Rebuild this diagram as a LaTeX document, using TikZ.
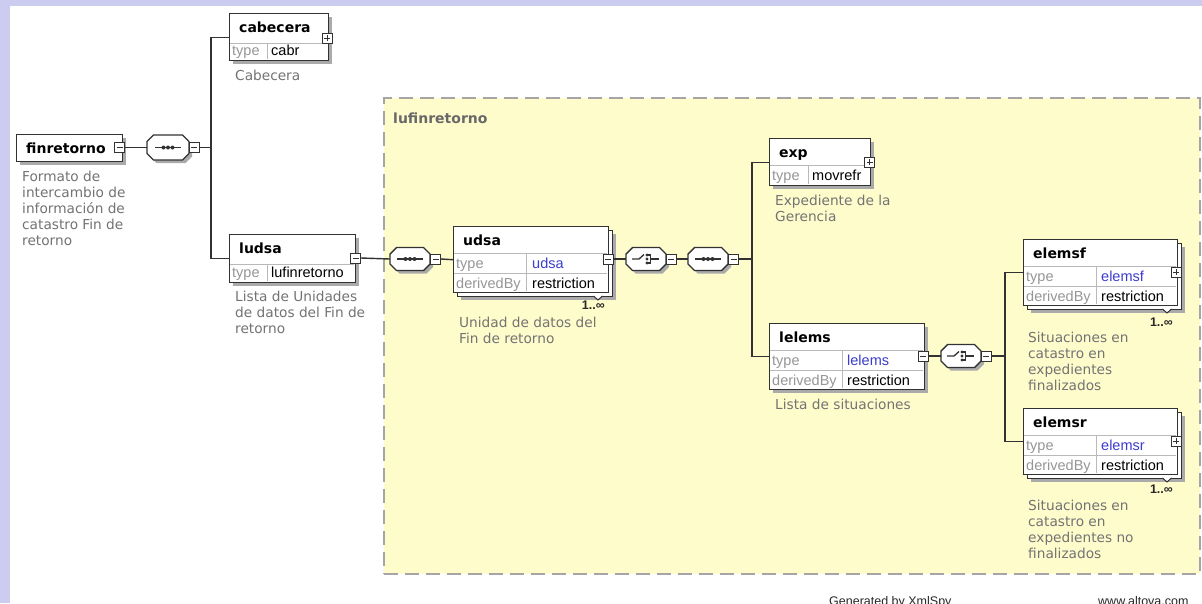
\documentclass[tikz,border=0pt]{standalone}
\usepackage{fontspec}
\setmainfont{DejaVu Sans}
\newfontfamily\arialf{Liberation Sans}
\usetikzlibrary{shadows}
\definecolor{lav}{RGB}{204,204,240}
\definecolor{ylw}{RGB}{255,252,204}
\definecolor{dashc}{RGB}{165,165,165}
\definecolor{boxc}{RGB}{50,50,50}
\definecolor{shad}{RGB}{170,170,170}
\definecolor{descc}{RGB}{115,115,115}
\definecolor{typec}{RGB}{150,150,150}
\definecolor{bluec}{RGB}{60,60,205}
\definecolor{rowc}{RGB}{185,185,185}
\definecolor{footc}{RGB}{40,40,40}
\tikzset{
  shd/.style={drop shadow={shadow xshift=3pt,shadow yshift=-3pt,fill=shad,opacity=1}},
  elbox/.style={draw=boxc,line width=1.4pt,fill=white,rectangle,inner sep=0pt,anchor=north west,shd},
  elfront/.style={draw=boxc,line width=1.4pt,fill=white,rectangle,inner sep=0pt,anchor=north west},
  titlef/.style={font=\bfseries\fontsize{14}{16}\selectfont,anchor=base west,inner sep=0pt,text=black},
  rowf/.style={font=\arialf\fontsize{14.5}{16}\selectfont,anchor=base west,inner sep=0pt,text=black},
  typel/.style={rowf,text=typec},
  bluev/.style={rowf,text=bluec},
  descf/.style={font=\fontsize{13.7}{16}\selectfont,text=descc,anchor=base west,inner sep=0pt,align=left},
  rowline/.style={draw=rowc,line width=1pt},
  pm/.style={draw=boxc,line width=1pt,fill=white,minimum size=10pt,inner sep=0pt,rectangle},
  minusbox/.style={pm,path picture={\draw[line width=1pt,boxc] ([xshift=2pt]path picture bounding box.west) -- ([xshift=-2pt]path picture bounding box.east);}},
  plusbox/.style={pm,path picture={\draw[line width=1pt,boxc] ([xshift=2pt]path picture bounding box.west) -- ([xshift=-2pt]path picture bounding box.east) ([yshift=-2pt]path picture bounding box.north) -- ([yshift=2pt]path picture bounding box.south);}},
  comp/.style={rectangle,minimum width=40pt,minimum height=23pt,inner sep=0pt},
  octo/.style={draw=boxc,line width=1.4pt,fill=white,shd},
  conn/.style={draw=boxc,line width=1.4pt},
  sym/.style={draw=boxc,line width=1.3pt},
  mult/.style={font=\arialf\bfseries\fontsize{12.5}{14}\selectfont,anchor=base east,inner sep=0pt,text=footc},
  footf/.style={font=\arialf\fontsize{12.5}{14}\selectfont,anchor=base west,inner sep=0pt,text=footc}
}
\newcommand\octshape[3]{% name, half width, half height
  \begin{scope}[shift={(#1.center)}]
    \path[octo] (-#2,-#3+6.5) -- (-#2+6.5,-#3) -- (#2-6.5,-#3) -- (#2,-#3+6.5) -- (#2,#3-6.5) -- (#2-6.5,#3) -- (-#2+6.5,#3) -- (-#2,#3-6.5) -- cycle;
  \end{scope}}
\newcommand\seqsym[1]{%
  \begin{scope}[shift={(#1.center)}]
    \draw[sym] (-13,0) -- (13,0);
    \fill[boxc] (-4.5,0) circle (2pt) (0,0) circle (2pt) (4.5,0) circle (2pt);
  \end{scope}}
\newcommand\chosym[1]{%
  \begin{scope}[shift={(#1.center)}]
    \draw[sym] (-14,0) -- (-7,0) -- (-2,-4.5);
    \fill[boxc] (1,-4) circle (1.6pt) (1,0) circle (1.6pt) (1,4) circle (1.6pt);
    \draw[sym] (1,-4) -- (4.5,-4) -- (4.5,4) -- (1,4) (4.5,0) -- (13,0);
  \end{scope}}
\newcommand\notch[1]{\draw[line width=1pt,draw=boxc,fill=white] ([xshift=-4.5pt]#1) -- ([yshift=-4pt]#1) -- ([xshift=4.5pt]#1);}
\begin{document}
\begin{tikzpicture}[x=1pt,y=-1pt]
\useasboundingbox (0,0) rectangle (1202,603);
\clip (0,0) rectangle (1202,603);
\fill[lav] (0,0) rectangle (1202,603);
\fill[white] (10,6) rectangle (1202,603);
% container
\node[draw=dashc,dash pattern=on 14pt off 7pt,line width=1.5pt,fill=ylw,anchor=north west,minimum width=816pt,minimum height=476pt,inner sep=0pt] (lufbox) at (383,97) {};
\node[font=\bfseries\fontsize{14}{16}\selectfont,text=descc!90!black,anchor=base west,inner sep=0pt] (luflbl) at (393,123) {lufinretorno};
% coordinates for buses
\coordinate (bus1) at (211,147.5);
\coordinate (bus2) at (752,259);
\coordinate (bus3) at (1005,356);
% compositors
\node[comp,minimum width=42pt,minimum height=25pt] (seq1) at (168,147.5) {};
\node[comp] (seq2) at (410,259) {};
\node[comp] (cho1) at (646,259) {};
\node[comp] (seq3) at (708,259) {};
\node[comp] (cho2) at (961,356) {};
% element boxes
\node[elbox,minimum width=106pt,minimum height=27pt] (fin) at (16,134) {};
\node[elbox,minimum width=99pt,minimum height=47pt] (cab) at (229,13) {};
\node[elbox,minimum width=126pt,minimum height=48pt] (ludsa) at (229,234) {};
\node[elbox,minimum width=155pt,minimum height=66pt] (udsab) at (457,230) {};
\node[elfront,minimum width=155pt,minimum height=66pt] (udsa) at (453,226) {};
\node[elbox,minimum width=101pt,minimum height=47pt] (exp) at (769,138) {};
\node[elbox,minimum width=155pt,minimum height=66pt] (lelems) at (769,323) {};
\node[elbox,minimum width=154pt,minimum height=66pt] (elemsfb) at (1027,243) {};
\node[elfront,minimum width=154pt,minimum height=66pt] (elemsf) at (1023,239) {};
\node[elbox,minimum width=154pt,minimum height=66pt] (elemsrb) at (1027,412) {};
\node[elfront,minimum width=154pt,minimum height=66pt] (elemsr) at (1023,408) {};
% expand/collapse boxes
\node[minusbox] (finm) at (119.5,147.5) {};
\node[plusbox] (cabp) at (327,38) {};
\node[minusbox] (ludsam) at (355.5,258) {};
\node[minusbox] (udsam) at (608,259) {};
\node[plusbox] (expp) at (869.5,162) {};
\node[minusbox] (lelemsm) at (923,356) {};
\node[plusbox] (elemsfp) at (1176,272) {};
\node[plusbox] (elemsrp) at (1176,441) {};
\node[minusbox] (seq1m) at (194,147.5) {};
\node[minusbox] (seq2m) at (435.5,259) {};
\node[minusbox] (cho1m) at (671,259) {};
\node[minusbox] (seq3m) at (733.5,259) {};
\node[minusbox] (cho2m) at (986,356) {};
% connectors
\draw[conn] (finm.east) -- (seq1.west);
\draw[conn] (seq1m.east) -- (bus1);
\draw[conn] (cab.west) -| (bus1) |- (ludsa.west);
\draw[conn] (ludsam.east) -- (seq2.west);
\draw[conn] (seq2m.east) -- (udsa.west);
\draw[conn] (udsam.east) -- (cho1.west);
\draw[conn] (cho1m.east) -- (seq3.west);
\draw[conn] (seq3m.east) -- (bus2);
\draw[conn] (exp.west) -| (bus2) |- (lelems.west);
\draw[conn] (lelemsm.east) -- (cho2.west);
\draw[conn] (cho2m.east) -- (bus3);
\draw[conn] (elemsf.west) -| (bus3) |- (elemsr.west);
% compositor shapes
\octshape{seq1}{21}{12.5}
\octshape{seq2}{20}{11.5}
\octshape{cho1}{20}{11.5}
\octshape{seq3}{20}{11.5}
\octshape{cho2}{20}{11.5}
\seqsym{seq1}\seqsym{seq2}\seqsym{seq3}\chosym{cho1}\chosym{cho2}
% row lines
\draw[rowline] (229.6,43) -- (327.4,43) (267,43) -- (267,59.4);
\draw[rowline] (229.6,264) -- (354.4,264) (267,264) -- (267,281.4);
\draw[rowline] (453.6,253) -- (607.4,253) (453.6,273) -- (607.4,273) (526,253) -- (526,291.4);
\draw[rowline] (769.6,165) -- (869.4,165) (808,165) -- (808,184.4);
\draw[rowline] (769.6,350) -- (923.4,350) (769.6,370) -- (923.4,370) (842,350) -- (842,388.4);
\draw[rowline] (1023.6,266) -- (1176.4,266) (1023.6,286) -- (1176.4,286) (1096,266) -- (1096,304.4);
\draw[rowline] (1023.6,435) -- (1176.4,435) (1023.6,455) -- (1176.4,455) (1096,435) -- (1096,473.4);
% redraw +/- on top
\node[minusbox] at (finm) {};
\node[plusbox] at (cabp) {};
\node[minusbox] at (ludsam) {};
\node[minusbox] at (udsam) {};
\node[plusbox] at (expp) {};
\node[minusbox] at (lelemsm) {};
\node[plusbox] at (elemsfp) {};
\node[plusbox] at (elemsrp) {};
\node[minusbox] at (seq1m) {};
\node[minusbox] at (seq2m) {};
\node[minusbox] at (cho1m) {};
\node[minusbox] at (seq3m) {};
\node[minusbox] at (cho2m) {};
% notches
\notch{598,296}
\notch{1167,309}
\notch{1167,478}
% titles
\node[titlef] (tfin) at (26,153) {finretorno};
\node[titlef] (tcab) at (239,32) {cabecera};
\node[titlef] (tludsa) at (239,253) {ludsa};
\node[titlef] (tudsa) at (463,245) {udsa};
\node[titlef] (texp) at (779,157) {exp};
\node[titlef] (tlelems) at (779,342) {lelems};
\node[titlef] (telemsf) at (1033,258) {elemsf};
\node[titlef] (telemsr) at (1033,427) {elemsr};
% rows
\node[typel] (rc1) at (232,55) {type};
\node[rowf] (rc2) at (271,55) {cabr};
\node[typel] (rl1) at (232,277) {type};
\node[rowf] (rl2) at (271,277) {lufinretorno};
\node[typel] (ru1) at (456,268.5) {type};
\node[bluev] (ru2) at (532,268.5) {udsa};
\node[typel] (ru3) at (456,288) {derivedBy};
\node[rowf] (ru4) at (532,288) {restriction};
\node[typel] (re1) at (772,180) {type};
\node[rowf] (re2) at (812,180) {movrefr};
\node[typel] (rle1) at (772,365.5) {type};
\node[bluev] (rle2) at (847,365.5) {lelems};
\node[typel] (rle3) at (772,385) {derivedBy};
\node[rowf] (rle4) at (847,385) {restriction};
\node[typel] (rf1) at (1026,281.5) {type};
\node[bluev] (rf2) at (1101,281.5) {elemsf};
\node[typel] (rf3) at (1026,301) {derivedBy};
\node[rowf] (rf4) at (1101,301) {restriction};
\node[typel] (rr1) at (1026,450.5) {type};
\node[bluev] (rr2) at (1101,450.5) {elemsr};
\node[typel] (rr3) at (1026,470) {derivedBy};
\node[rowf] (rr4) at (1101,470) {restriction};
% multiplicities
\node[mult] (mu1) at (605,309) {1..∞};
\node[mult] (mu2) at (1173,326) {1..∞};
\node[mult] (mu3) at (1173,493) {1..∞};
% descriptions (base = last line)
\node[descf] (dfin) at (22,245) {Formato de\\intercambio de\\información de\\catastro Fin de\\retorno};
\node[descf] (dcab) at (235,80) {Cabecera};
\node[descf] (dludsa) at (235,333) {Lista de Unidades\\de datos del Fin de\\retorno};
\node[descf] (dudsa) at (459,343) {Unidad de datos del\\Fin de retorno};
\node[descf] (dexp) at (775,221) {Expediente de la\\Gerencia};
\node[descf] (dlelems) at (775,409) {Lista de situaciones};
\node[descf] (delemsf) at (1028,390) {Situaciones en\\catastro en\\expedientes\\finalizados};
\node[descf] (delemsr) at (1028,558) {Situaciones en\\catastro en\\expedientes no\\finalizados};
% footer
\node[footf] (gen) at (829,605) {Generated by XmlSpy};
\node[footf] (alt) at (1098,605) {www.altova.com};
\end{tikzpicture}
\end{document}
